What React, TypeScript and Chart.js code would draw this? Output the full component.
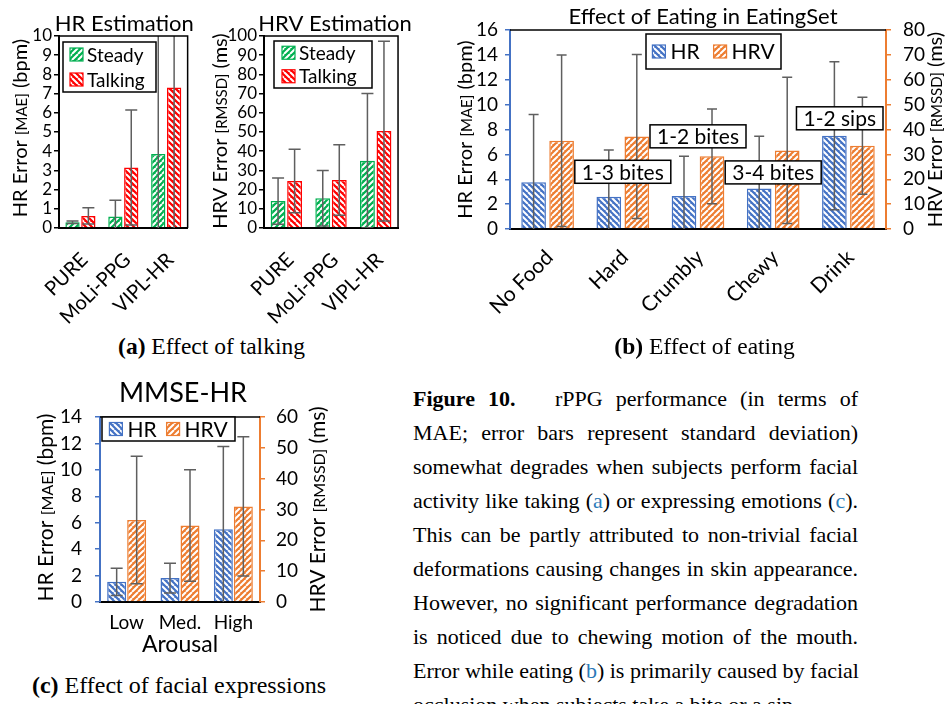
import React, { useEffect, useRef } from 'react';
import { Chart, registerables } from 'chart.js';
Chart.register(...registerables);

// ---------- data ----------
// (a) Effect of talking
const talkCategories = ['PURE', 'MoLi-PPG', 'VIPL-HR'];
const hrSteady = [0.3, 0.6, 3.85];
const hrSteadySd = [0.07, 0.85, 7.5];
const hrTalking = [0.63, 3.15, 7.32];
const hrTalkingSd = [0.42, 3.0, 9.0];
const hrvSteady = [14, 15.5, 35];
const hrvSteadySd = [12, 14.5, 35];
const hrvTalking = [24.5, 25, 50.5];
const hrvTalkingSd = [16.5, 18.3, 46.8];
const hrTicks = [0, 10, 1];
const hrvTicks = [0, 100, 10];

// (b) Effect of eating
const eatCategories = ['No Food', 'Hard', 'Crumbly', 'Chewy', 'Drink'];
const eatHr = [3.75, 2.6, 2.65, 3.25, 7.5];
const eatHrSd = [5.45, 3.75, 3.2, 4.2, 5.95];
const eatHrv = [35.5, 37.2, 29.2, 31.6, 33.5];
const eatHrvSd = [34.5, 33, 19, 29.4, 19.5];
const eatNotes = ['1-3 bites', '1-2 bites', '3-4 bites', '1-2 sips'];
const eatNoteCategory = [1, 2, 3, 4];
const eatNoteLevel = [4.6, 7.45, 4.55, 8.9];
const eatHrTicks = [0, 16, 2];
const eatHrvTicks = [0, 80, 10];

// (c) Effect of facial expressions
const arousalCategories = ['Low', 'Med.', 'High'];
const mmseHr = [1.53, 1.81, 5.5];
const mmseHrSd = [1.03, 1.13, 6.26];
const mmseHrv = [26.6, 24.8, 31.0];
const mmseHrvSd = [20.7, 18.1, 22.6];
const mmseHrTicks = [0, 14, 2];
const mmseHrvTicks = [0, 60, 10];

// ---------- styling helpers ----------
const FONT = 'Lato, "Noto Sans", sans-serif';
const BLUE = '#4472C4';
const ORANGE = '#ED7D31';
const GREEN = '#00B050';
const RED = '#FF0000';
const WHISKER = '#5f5f5f';

type Run = { t: string; s: number };
type TextItem = { runs: Run[]; ref: 'top' | 'left' | 'right' | 'bottom'; dx: number; dy: number; rot?: number };

function makePattern(color: string, up: boolean) {
  const s = 6;
  const c = document.createElement('canvas');
  c.width = s;
  c.height = s;
  const g = c.getContext('2d')!;
  g.fillStyle = color;
  g.fillRect(0, 0, s, s);
  g.strokeStyle = '#ffffff';
  g.lineWidth = 2;
  g.beginPath();
  for (let k = -1; k <= 1; k++) {
    if (up) {
      g.moveTo(k * s, s);
      g.lineTo(k * s + s, 0);
    } else {
      g.moveTo(k * s, 0);
      g.lineTo(k * s + s, s);
    }
  }
  g.stroke();
  return g.createPattern(c, 'repeat')!;
}

function drawRuns(ctx: CanvasRenderingContext2D, runs: Run[], x: number, y: number, rot: number) {
  ctx.save();
  ctx.translate(x, y);
  ctx.rotate(rot);
  let total = 0;
  const widths = runs.map((r) => {
    ctx.font = `${r.s}px ${FONT}`;
    const w = ctx.measureText(r.t).width;
    total += w;
    return w;
  });
  const big = Math.max(...runs.map((r) => r.s));
  let cx = -total / 2;
  ctx.fillStyle = '#000';
  ctx.textBaseline = 'alphabetic';
  ctx.textAlign = 'left';
  runs.forEach((r, i) => {
    ctx.font = `${r.s}px ${FONT}`;
    ctx.fillText(r.t, cx, big * 0.36);
    cx += widths[i];
  });
  ctx.restore();
}

function errorBarsPlugin(errors: number[][], cap: number) {
  return {
    id: 'errorBars',
    afterDatasetsDraw(chart: any) {
      const { ctx, chartArea: a } = chart;
      ctx.save();
      ctx.beginPath();
      ctx.rect(a.left, a.top, a.right - a.left, a.bottom - a.top);
      ctx.clip();
      ctx.strokeStyle = WHISKER;
      ctx.lineWidth = 1.5;
      chart.data.datasets.forEach((ds: any, i: number) => {
        const meta = chart.getDatasetMeta(i);
        const scale = chart.scales[meta.yAxisID];
        meta.data.forEach((bar: any, j: number) => {
          const v = ds.data[j];
          const sd = errors[i][j];
          const yt = scale.getPixelForValue(v + sd);
          const yb = scale.getPixelForValue(v - sd);
          const x = bar.x;
          ctx.beginPath();
          ctx.moveTo(x, yt);
          ctx.lineTo(x, yb);
          ctx.moveTo(x - cap, yt);
          ctx.lineTo(x + cap, yt);
          ctx.moveTo(x - cap, yb);
          ctx.lineTo(x + cap, yb);
          ctx.stroke();
        });
      });
      ctx.restore();
    },
  };
}

function framePlugin(right: boolean) {
  return {
    id: 'frame',
    afterDatasetsDraw(chart: any) {
      const { ctx, chartArea: a } = chart;
      ctx.save();
      ctx.strokeStyle = '#000';
      ctx.lineWidth = 1.5;
      ctx.beginPath();
      ctx.moveTo(a.left, a.top);
      ctx.lineTo(a.right, a.top);
      if (right) ctx.lineTo(a.right, a.bottom);
      ctx.stroke();
      ctx.restore();
    },
  };
}

function textPlugin(items: TextItem[]) {
  return {
    id: 'texts',
    afterDraw(chart: any) {
      const { ctx, chartArea: a } = chart;
      const cx = (a.left + a.right) / 2;
      const cy = (a.top + a.bottom) / 2;
      items.forEach((it) => {
        let x = cx;
        let y = cy;
        if (it.ref === 'top') y = a.top;
        if (it.ref === 'bottom') y = a.bottom;
        if (it.ref === 'left') x = a.left;
        if (it.ref === 'right') x = a.right;
        drawRuns(ctx, it.runs, x + it.dx, y + it.dy, it.rot || 0);
      });
    },
  };
}

type LegendCfg = { dx: number; dy: number; w: number; h: number; dir: 'col' | 'row'; size: number; pad: number; gap: number; itemGap: number };

function legendPlugin(cfg: LegendCfg) {
  return {
    id: 'boxLegend',
    afterDraw(chart: any) {
      const { ctx, chartArea: a } = chart;
      const L = a.left + cfg.dx;
      const T = a.top + cfg.dy;
      const icon = 13;
      ctx.save();
      ctx.fillStyle = '#fff';
      ctx.fillRect(L, T, cfg.w, cfg.h);
      ctx.strokeStyle = '#000';
      ctx.lineWidth = 1.5;
      ctx.strokeRect(L, T, cfg.w, cfg.h);
      ctx.font = `${cfg.size}px ${FONT}`;
      ctx.textBaseline = 'middle';
      ctx.textAlign = 'left';
      const ds = chart.data.datasets;
      const drawItem = (d: any, ix: number, cy: number) => {
        ctx.fillStyle = d.backgroundColor;
        ctx.fillRect(ix, cy - icon / 2, icon, icon);
        ctx.strokeStyle = d.borderColor;
        ctx.lineWidth = 1.2;
        ctx.strokeRect(ix, cy - icon / 2, icon, icon);
        ctx.fillStyle = '#000';
        ctx.fillText(d.label, ix + icon + cfg.gap, cy + 1);
      };
      if (cfg.dir === 'col') {
        ds.forEach((d: any, i: number) => {
          drawItem(d, L + cfg.pad, T + (cfg.h * (i + 0.5)) / ds.length);
        });
      } else {
        const widths = ds.map((d: any) => icon + cfg.gap + ctx.measureText(d.label).width);
        const total = widths.reduce((p: number, q: number) => p + q, 0) + cfg.itemGap * (ds.length - 1);
        let x = L + (cfg.w - total) / 2;
        ds.forEach((d: any, i: number) => {
          drawItem(d, x, T + cfg.h / 2);
          x += widths[i] + cfg.itemGap;
        });
      }
      ctx.restore();
    },
  };
}

function notesPlugin(labels: string[], cats: number[], levels: number[], size: number) {
  return {
    id: 'notes',
    afterDraw(chart: any) {
      const { ctx, chartArea: a } = chart;
      const xs = chart.scales.x;
      const ys = chart.scales.y;
      ctx.save();
      ctx.font = `${size}px ${FONT}`;
      ctx.textBaseline = 'middle';
      ctx.textAlign = 'center';
      labels.forEach((lab, i) => {
        const w = ctx.measureText(lab).width + 14;
        const h = 23;
        let cx = xs.getPixelForValue(cats[i]);
        if (cx + w / 2 > a.right - 3) cx = a.right - 3 - w / 2;
        const cy = ys.getPixelForValue(levels[i]);
        ctx.fillStyle = '#fff';
        ctx.fillRect(cx - w / 2, cy - h / 2, w, h);
        ctx.strokeStyle = '#000';
        ctx.lineWidth = 1.5;
        ctx.strokeRect(cx - w / 2, cy - h / 2, w, h);
        ctx.fillStyle = '#000';
        ctx.fillText(lab, cx, cy + 1);
      });
      ctx.restore();
    },
  };
}

function tickFont(size: number) {
  return { family: FONT, size };
}

function yAxis(range: number[], width: number, color: string, fontSize: number, pad: number, position: 'left' | 'right' = 'left') {
  return {
    position,
    min: range[0],
    max: range[1],
    afterFit: (s: any) => {
      s.width = width;
    },
    ticks: { stepSize: range[2], autoSkip: false, color: '#000', font: tickFont(fontSize), padding: pad },
    grid: { display: true, drawOnChartArea: false, drawTicks: true, tickLength: 5, color, lineWidth: 1.5 },
    border: { display: true, color, width: 2 },
  };
}

function xAxis(height: number, fontSize: number, rotated: boolean, pad: number, offset = 0) {
  return {
    afterFit: (s: any) => {
      s.height = height;
    },
    ticks: {
      color: '#000',
      font: tickFont(fontSize),
      padding: pad,
      labelOffset: offset,
      autoSkip: false,
      minRotation: rotated ? 45 : 0,
      maxRotation: rotated ? 45 : 0,
    },
    grid: { display: false, drawTicks: false },
    border: { display: true, color: '#000', width: 2 },
  };
}

const baseOpts = {
  animation: false,
  responsive: false,
  events: [],
};
const hidePlugins = { legend: { display: false }, tooltip: { enabled: false }, title: { display: false } };

function barDs(label: string, data: number[], color: string, up: boolean, cat: number, bar: number, axis = 'y') {
  return {
    label,
    data,
    yAxisID: axis,
    backgroundColor: makePattern(color, up),
    borderColor: color,
    borderWidth: 1.5,
    categoryPercentage: cat,
    barPercentage: bar,
  };
}

// ---------- chart configs ----------
function configA(): any {
  return {
    type: 'bar',
    data: {
      labels: talkCategories,
      datasets: [
        barDs('Steady', hrSteady, GREEN, true, 0.74, 0.9),
        barDs('Talking', hrTalking, RED, false, 0.74, 0.9),
      ],
    },
    options: {
      ...baseOpts,
      layout: { padding: { top: 36, right: 11, left: 0, bottom: 0 } },
      plugins: hidePlugins,
      scales: { x: xAxis(102, 20, true, 20, 4), y: yAxis(hrTicks, 59, '#000', 17, 2) },
    },
    plugins: [
      errorBarsPlugin([hrSteadySd, hrTalkingSd], 6),
      framePlugin(true),
      legendPlugin({ dx: 4, dy: 6, w: 93, h: 50, dir: 'col', size: 19, pad: 7, gap: 4, itemGap: 0 }),
      textPlugin([
        { runs: [{ t: 'HR Estimation', s: 22 }], ref: 'top', dx: 1, dy: -13 },
        { runs: [{ t: 'HR Error ', s: 20 }, { t: '[MAE]', s: 15 }, { t: ' (bpm)', s: 20 }], ref: 'left', dx: -39, dy: -4, rot: -Math.PI / 2 },
      ]),
    ],
  };
}

function configA2(): any {
  return {
    type: 'bar',
    data: {
      labels: talkCategories,
      datasets: [
        barDs('Steady', hrvSteady, GREEN, true, 0.74, 0.9),
        barDs('Talking', hrvTalking, RED, false, 0.74, 0.9),
      ],
    },
    options: {
      ...baseOpts,
      layout: { padding: { top: 36, right: 14, left: 0, bottom: 0 } },
      plugins: hidePlugins,
      scales: { x: xAxis(102, 20, true, 20, 4), y: yAxis(hrvTicks, 64, '#000', 17, 2) },
    },
    plugins: [
      errorBarsPlugin([hrvSteadySd, hrvTalkingSd], 6),
      framePlugin(true),
      legendPlugin({ dx: 10, dy: 5, w: 98, h: 47, dir: 'col', size: 19, pad: 8, gap: 4, itemGap: 0 }),
      textPlugin([
        { runs: [{ t: 'HRV Estimation', s: 22 }], ref: 'top', dx: 4, dy: -13 },
        { runs: [{ t: 'HRV Error ', s: 20 }, { t: '[RMSSD]', s: 15 }, { t: ' (ms)', s: 20 }], ref: 'left', dx: -44, dy: -1, rot: -Math.PI / 2 },
      ]),
    ],
  };
}

function configB(): any {
  return {
    type: 'bar',
    data: {
      labels: eatCategories,
      datasets: [
        barDs('HR', eatHr, BLUE, false, 0.745, 0.88, 'y'),
        barDs('HRV', eatHrv, ORANGE, true, 0.745, 0.88, 'y1'),
      ],
    },
    options: {
      ...baseOpts,
      layout: { padding: { top: 30, right: 0, left: 0, bottom: 0 } },
      plugins: hidePlugins,
      scales: {
        x: xAxis(101, 21, true, 16, 2),
        y: yAxis(eatHrTicks, 90, BLUE, 19, 7),
        y1: yAxis(eatHrvTicks, 63, ORANGE, 19, 12, 'right'),
      },
    },
    plugins: [
      errorBarsPlugin([eatHrSd, eatHrvSd], 5),
      framePlugin(false),
      legendPlugin({ dx: 136, dy: 4, w: 135, h: 35, dir: 'row', size: 21, pad: 0, gap: 5, itemGap: 14 }),
      notesPlugin(eatNotes, eatNoteCategory, eatNoteLevel, 21),
      textPlugin([
        { runs: [{ t: 'Effect of Eating in EatingSet', s: 22 }], ref: 'top', dx: 5, dy: -14 },
        { runs: [{ t: 'HR Error ', s: 20 }, { t: '[MAE]', s: 15 }, { t: ' (bpm)', s: 20 }], ref: 'left', dx: -45, dy: 0, rot: -Math.PI / 2 },
        { runs: [{ t: 'HRV Error ', s: 20 }, { t: '[RMSSD]', s: 15 }, { t: ' (ms)', s: 20 }], ref: 'right', dx: 49, dy: 0, rot: -Math.PI / 2 },
      ]),
    ],
  };
}

function configC(): any {
  return {
    type: 'bar',
    data: {
      labels: arousalCategories,
      datasets: [
        barDs('HR', mmseHr, BLUE, false, 0.75, 0.95, 'y'),
        barDs('HRV', mmseHrv, ORANGE, true, 0.75, 0.95, 'y1'),
      ],
    },
    options: {
      ...baseOpts,
      layout: { padding: { top: 47, right: 0, left: 0, bottom: 0 } },
      plugins: hidePlugins,
      scales: {
        x: xAxis(58, 19, false, 9),
        y: yAxis(mmseHrTicks, 100, BLUE, 19, 13),
        y1: yAxis(mmseHrvTicks, 80, ORANGE, 19, 11, 'right'),
      },
    },
    plugins: [
      errorBarsPlugin([mmseHrSd, mmseHrvSd], 6),
      framePlugin(false),
      legendPlugin({ dx: 2, dy: 0, w: 133, h: 24, dir: 'row', size: 21, pad: 0, gap: 5, itemGap: 10 }),
      textPlugin([
        { runs: [{ t: 'MMSE-HR', s: 27 }], ref: 'top', dx: 3, dy: -25 },
        { runs: [{ t: 'Arousal', s: 23 }], ref: 'bottom', dx: 0, dy: 42 },
        { runs: [{ t: 'HR Error ', s: 21 }, { t: '[MAE]', s: 16 }, { t: ' (bpm)', s: 21 }], ref: 'left', dx: -55, dy: -2, rot: -Math.PI / 2 },
        { runs: [{ t: 'HRV Error ', s: 21 }, { t: '[RMSSD]', s: 16 }, { t: ' (ms)', s: 21 }], ref: 'right', dx: 57, dy: 0, rot: -Math.PI / 2 },
      ]),
    ],
  };
}

function ChartBox(props: { left: number; top: number; width: number; height: number; make: () => any }) {
  const ref = useRef<HTMLCanvasElement>(null);
  useEffect(() => {
    const chart = new Chart(ref.current!, props.make());
    return () => chart.destroy();
  }, []);
  return (
    <div style={{ position: 'absolute', left: props.left, top: props.top, width: props.width, height: props.height }}>
      <canvas ref={ref} width={props.width} height={props.height} style={{ display: 'block' }} />
    </div>
  );
}

const SERIF = '"Liberation Serif", "Times New Roman", serif';
const LINK = '#2a7ab8';

const paragraphLines: React.ReactNode[] = [
  <>
    <b>Figure 10.</b>&nbsp;&nbsp; rPPG performance (in terms of
  </>,
  <>MAE; error bars represent standard deviation)</>,
  <>somewhat degrades when subjects perform facial</>,
  <>
    activity like taking (<span style={{ color: LINK }}>a</span>) or expressing emotions (<span style={{ color: LINK }}>c</span>).
  </>,
  <>This can be partly attributed to non-trivial facial</>,
  <>deformations causing changes in skin appearance.</>,
  <>However, no significant performance degradation</>,
  <>is noticed due to chewing motion of the mouth.</>,
  <>
    Error while eating (<span style={{ color: LINK }}>b</span>) is primarily caused by facial
  </>,
  <>occlusion when subjects take a bite or a sip.</>,
];

export default function App() {
  const caption = { position: 'absolute' as const, textAlign: 'center' as const, color: '#000', whiteSpace: 'nowrap' as const };
  return (
    <div style={{ position: 'absolute', left: 0, top: 0, width: 949, height: 704, overflow: 'hidden', background: '#fff' }}>
      <ChartBox left={0} top={0} width={205} height={330} make={configA} />
      <ChartBox left={200} top={0} width={215} height={330} make={configA2} />
      <ChartBox left={420} top={0} width={529} height={330} make={configB} />
      <ChartBox left={0} top={370} width={340} height={290} make={configC} />
      <div style={{ ...caption, font: `23.5px ${SERIF}`, left: 0, width: 423, top: 333 }}>
        <b>(a)</b> Effect of talking
      </div>
      <div style={{ ...caption, font: `23.5px ${SERIF}`, left: 460, width: 489, top: 333 }}>
        <b>(b)</b> Effect of eating
      </div>
      <div style={{ ...caption, font: `24px ${SERIF}`, left: 0, width: 358, top: 672 }}>
        <b>(c)</b> Effect of facial expressions
      </div>
      <div style={{ position: 'absolute', left: 413, top: 382, width: 445, font: `22px/34px ${SERIF}`, color: '#000' }}>
        {paragraphLines.map((l, i) => (
          <div key={i} style={{ textAlign: 'justify', textAlignLast: i === paragraphLines.length - 1 ? 'left' : 'justify', whiteSpace: 'nowrap' }}>
            {l}
          </div>
        ))}
      </div>
    </div>
  );
}
